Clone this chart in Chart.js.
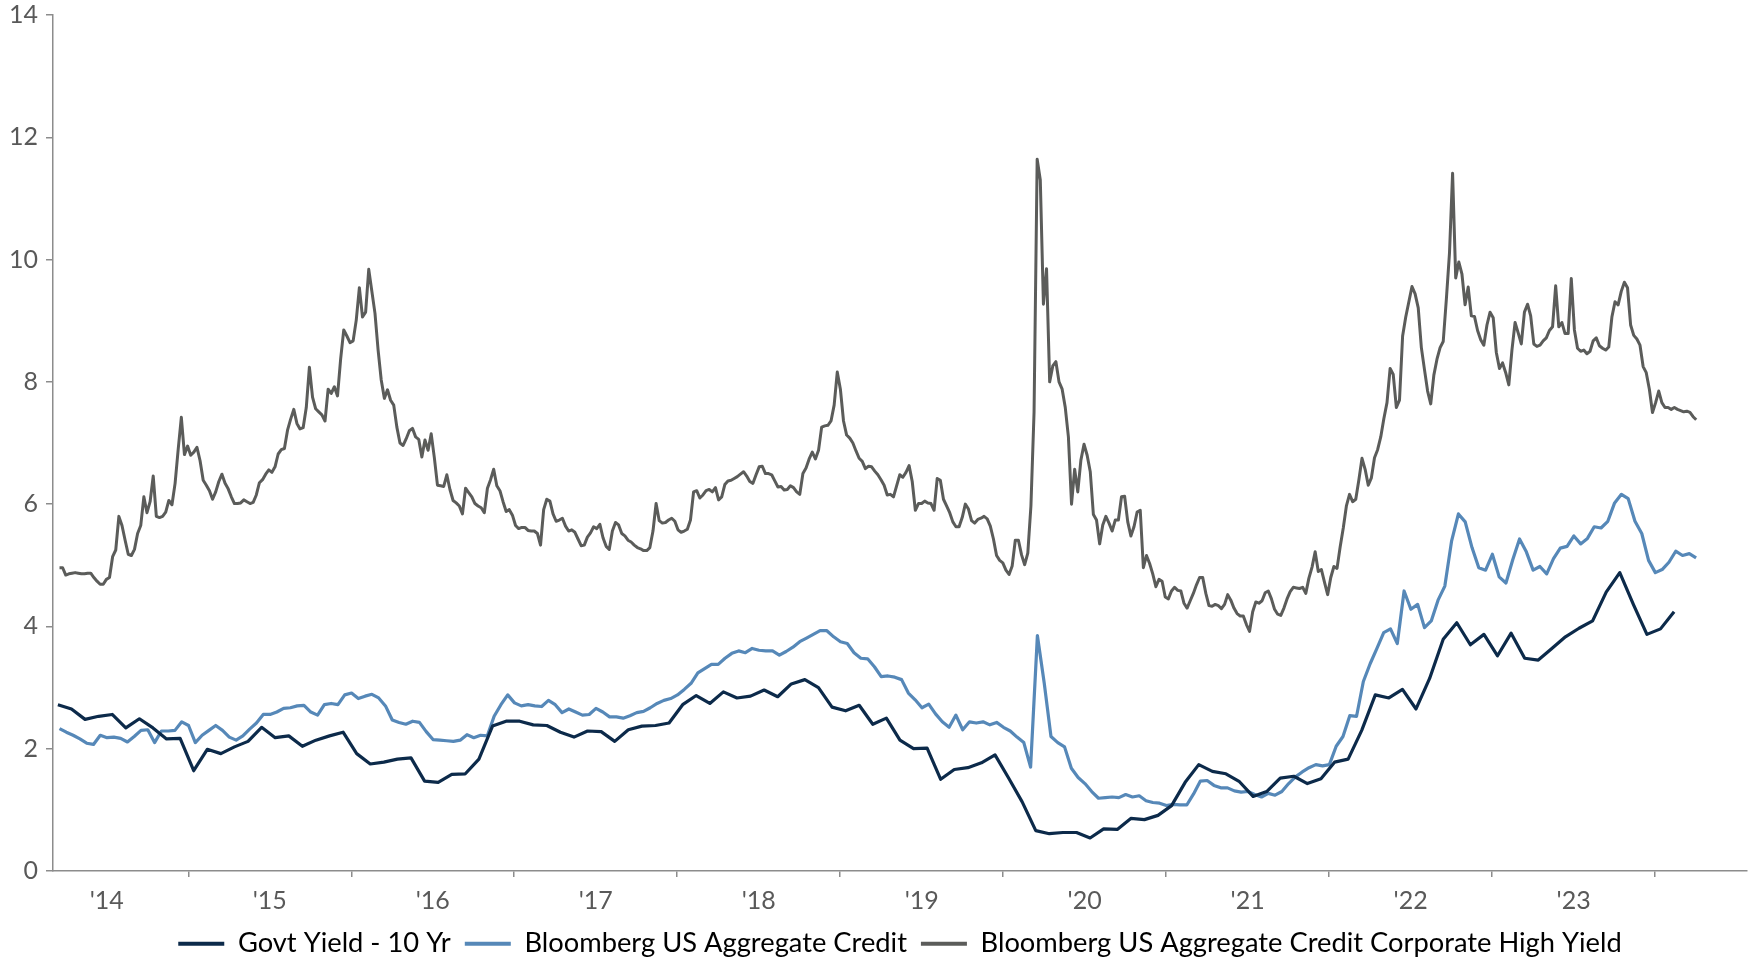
<!DOCTYPE html>
<html lang="en">
<head>
<meta charset="utf-8">
<script src="https://cdn.jsdelivr.net/npm/chart.js@4"></script>
<style>
  html, body { margin: 0; padding: 0; background: #fff; }
</style>
</head>
<body>
<canvas id="myChart" width="1755" height="960"></canvas>
<script>
// year labels on the x axis ('14 ... '23), each centred in its year
const yearLabels = [2014, 2015, 2016, 2017, 2018, 2019, 2020, 2021, 2022, 2023]

// 10 yr govt yield, one reading a month, Mar 2014 -> Feb 2024
const govtStart = 2014.2
const govtYield = [
  2.72, 2.65, 2.48, 2.53, 2.56, 2.34, 2.49, 2.34, 2.16, 2.17,
  1.64, 1.99, 1.92, 2.03, 2.12, 2.35, 2.18, 2.21, 2.04, 2.14, 2.21, 2.27,
  1.92, 1.75, 1.78, 1.83, 1.85, 1.47, 1.45, 1.58, 1.59, 1.83, 2.37, 2.45,
  2.45, 2.39, 2.38, 2.27, 2.19, 2.29, 2.28, 2.12, 2.31, 2.37, 2.38, 2.42,
  2.72, 2.87, 2.74, 2.93, 2.83, 2.86, 2.96, 2.85, 3.06, 3.13, 3.00, 2.68,
  2.62, 2.71, 2.40, 2.50, 2.14, 2.00, 2.01, 1.50, 1.66, 1.69, 1.77, 1.90,
  1.52, 1.13, 0.66, 0.61, 0.63, 0.63, 0.54, 0.69, 0.68, 0.86, 0.84, 0.91,
  1.07, 1.45, 1.74, 1.63, 1.59, 1.46, 1.22, 1.30, 1.52, 1.55, 1.43, 1.51,
  1.78, 1.83, 2.30, 2.88, 2.83, 2.97, 2.65, 3.15, 3.79, 4.06, 3.70, 3.87,
  3.52, 3.89, 3.48, 3.45, 3.64, 3.83, 3.97, 4.09, 4.56, 4.88, 4.36, 3.87,
  3.96, 4.24
]

// aggregate credit yield, read twice a month from mid Mar 2014
const halfMonthStart = 2014.21
const aggCredit = [
  // 2014 - 2015
  2.33, 2.27, 2.22, 2.16, 2.09, 2.07, 2.22, 2.18, 2.19, 2.17, 2.11, 2.2, 2.3, 2.31, 2.1, 2.29, 2.29, 2.3, 2.44, 2.38,
  2.1, 2.22, 2.3, 2.38, 2.3, 2.19, 2.14, 2.21, 2.32, 2.42, 2.56, 2.56, 2.6, 2.66, 2.67, 2.7, 2.71, 2.6, 2.55, 2.72,
  // late 2015 - mid 2017
  2.74, 2.72, 2.88, 2.91, 2.82, 2.86, 2.89, 2.83, 2.7, 2.47, 2.43, 2.4, 2.45, 2.43, 2.28, 2.15, 2.14, 2.13, 2.12, 2.14, 2.23,
  2.18, 2.22, 2.21, 2.53, 2.72, 2.88, 2.75, 2.7, 2.72, 2.7, 2.69, 2.79, 2.72, 2.59, 2.65, 2.6, 2.55, 2.56, 2.66, 2.6, 2.52,
  // mid 2017 - early 2019
  2.52, 2.5, 2.54, 2.59, 2.61, 2.67, 2.74, 2.79, 2.82, 2.88, 2.97, 3.07, 3.24, 3.31, 3.38, 3.38, 3.48, 3.56, 3.6, 3.57, 3.64,
  3.61, 3.6, 3.6, 3.53, 3.59, 3.66, 3.75, 3.81, 3.87, 3.93, 3.93, 3.83, 3.75, 3.72, 3.57, 3.48, 3.47, 3.34, 3.18, 3.19,
  // 2019 - 2020
  3.17, 3.13, 2.91, 2.8, 2.67, 2.73, 2.57, 2.44, 2.35, 2.55, 2.31, 2.44, 2.42, 2.44, 2.39, 2.43, 2.35, 2.29, 2.19, 2.1, 1.7,
  3.85, 3.08, 2.2, 2.1, 2.03, 1.68, 1.53, 1.43, 1.3, 1.19, 1.2, 1.21, 1.2, 1.25, 1.21, 1.23, 1.15, 1.12, 1.11, 1.07,
  // 2021 - 2022
  1.09, 1.08, 1.08, 1.26, 1.47, 1.48, 1.4, 1.36, 1.36, 1.31, 1.29, 1.3, 1.25, 1.21, 1.27, 1.24, 1.3, 1.43, 1.54, 1.62, 1.69,
  1.74, 1.72, 1.74, 2.04, 2.2, 2.54, 2.53, 3.1, 3.39, 3.64, 3.9, 3.96, 3.72, 4.58, 4.28, 4.36, 3.98, 4.09, 4.43, 4.66,
  // late 2022 - 2024
  5.4, 5.84, 5.71, 5.29, 4.96, 4.92, 5.18, 4.81, 4.71, 5.09, 5.43, 5.22, 4.92, 4.98, 4.86, 5.11, 5.28, 5.31, 5.48,
  5.35, 5.44, 5.63, 5.61, 5.72, 6.02, 6.16, 6.09, 5.72, 5.52, 5.08, 4.88, 4.93, 5.05, 5.23, 5.16, 5.19, 5.12
]

// high yield index, one reading a week from mid Mar 2014
const weekStart = 2014.21
const highYield = [
  // Mar 2014 - Oct 2015
  4.96, 4.96, 4.84, 4.86, 4.87, 4.88, 4.87, 4.86, 4.86, 4.87, 4.87, 4.8, 4.74, 4.69, 4.69, 4.77, 4.8, 5.14, 5.25, 5.8,
  5.65, 5.41, 5.18, 5.16, 5.26, 5.52, 5.65, 6.12, 5.86, 6.04, 6.46, 5.8, 5.78, 5.8, 5.87, 6.06, 5.99, 6.34, 6.9, 7.42,
  6.81, 6.95, 6.8, 6.85, 6.93, 6.71, 6.39, 6.31, 6.22, 6.08, 6.2, 6.37, 6.49, 6.34, 6.25, 6.12, 6.01, 6.01, 6.02, 6.07,
  6.04, 6.01, 6.03, 6.15, 6.35, 6.4, 6.49, 6.56, 6.52, 6.61, 6.82, 6.89, 6.91, 7.21, 7.39, 7.55, 7.32, 7.23, 7.25, 7.58,
  8.24, 7.75, 7.56, 7.51, 7.46, 7.36, 7.88,
  // Nov 2015 - Jul 2017
  7.81, 7.92, 7.77, 8.37, 8.85, 8.75, 8.64, 8.67, 9.01, 9.54, 9.06, 9.14, 9.84, 9.48, 9.12, 8.52, 8.03, 7.73, 7.87, 7.7,
  7.62, 7.26, 7.0, 6.96, 7.07, 7.2, 7.24, 7.1, 7.06, 6.77, 7.05, 6.88, 7.15, 6.76, 6.31, 6.3, 6.29, 6.48, 6.24, 6.06,
  6.02, 5.97, 5.84, 6.26, 6.19, 6.12, 6.01, 5.97, 5.94, 5.86, 6.26, 6.4, 6.57, 6.3, 6.22, 6.04, 5.88, 5.91, 5.82, 5.65,
  5.6, 5.62, 5.62, 5.57, 5.56, 5.56, 5.52, 5.33, 5.91, 6.08, 6.05, 5.84, 5.72, 5.74, 5.77, 5.64, 5.56, 5.58, 5.54, 5.43,
  5.32, 5.33, 5.46, 5.53, 5.63, 5.6, 5.67, 5.45, 5.31, 5.26,
  // Aug 2017 - Apr 2019
  5.56, 5.7, 5.66, 5.52, 5.48, 5.41, 5.38, 5.33, 5.29, 5.27, 5.24, 5.24, 5.29, 5.56, 6.01, 5.73, 5.69, 5.7, 5.74, 5.77,
  5.72, 5.58, 5.54, 5.56, 5.59, 5.74, 6.2, 6.22, 6.1, 6.15, 6.22, 6.24, 6.2, 6.27, 6.07, 6.12, 6.32, 6.38, 6.39, 6.42,
  6.45, 6.49, 6.53, 6.46, 6.37, 6.34, 6.48, 6.61, 6.62, 6.5, 6.5, 6.48, 6.38, 6.28, 6.29, 6.23, 6.24, 6.3, 6.27, 6.2,
  6.16, 6.5, 6.59, 6.74, 6.85, 6.74, 6.88, 7.26, 7.28, 7.29, 7.36, 7.62, 8.16, 7.88, 7.36, 7.13, 7.08, 7.0, 6.87, 6.75,
  6.7, 6.58, 6.62, 6.61, 6.54, 6.48, 6.4, 6.31, 6.15,
  // Apr 2019 - Jan 2021
  6.16, 6.12, 6.3, 6.48, 6.44, 6.52, 6.63, 6.37, 5.9, 6.01, 6.01, 6.05, 6.02, 6.01, 5.9, 6.42, 6.39, 6.08, 5.97, 5.86,
  5.71, 5.63, 5.63, 5.78, 6.0, 5.92, 5.73, 5.69, 5.75, 5.77, 5.8, 5.76, 5.64, 5.43, 5.16, 5.08, 5.04, 4.92, 4.85, 4.99,
  5.41, 5.41, 5.17, 5.01, 5.2, 5.97, 7.5, 11.64, 11.3, 9.27, 9.85, 8.0, 8.26, 8.33, 8.0, 7.88, 7.58, 7.1, 6.0, 6.57,
  6.2, 6.72, 6.98, 6.8, 6.53, 5.83, 5.74, 5.35, 5.66, 5.8, 5.69, 5.56, 5.74, 5.74, 6.12, 6.13, 5.71, 5.48, 5.63, 5.87,
  5.9, 4.96, 5.16, 5.03, 4.86, 4.65, 4.77, 4.74, 4.48, 4.45,
  // Jan 2021 - Sep 2022
  4.58, 4.64, 4.59, 4.58, 4.38, 4.3, 4.42, 4.54, 4.68, 4.8, 4.8, 4.54, 4.34, 4.33, 4.36, 4.34, 4.29, 4.36, 4.52, 4.43,
  4.3, 4.21, 4.17, 4.17, 4.03, 3.92, 4.24, 4.4, 4.38, 4.42, 4.55, 4.58, 4.45, 4.28, 4.2, 4.18, 4.3, 4.45, 4.57, 4.64,
  4.63, 4.62, 4.64, 4.54, 4.79, 4.97, 5.22, 4.9, 4.93, 4.72, 4.52, 4.8, 4.98, 4.95, 5.3, 5.61, 5.97, 6.16, 6.04, 6.08,
  6.4, 6.75, 6.57, 6.31, 6.43, 6.76, 6.89, 7.1, 7.4, 7.66, 8.22, 8.12, 7.58, 7.7, 8.75, 9.06, 9.31, 9.56, 9.44, 9.21,
  8.56, 8.2, 7.85, 7.64, 8.11, 8.37, 8.56, 8.66, 9.35, 10.1,
  // Oct 2022 - Apr 2024
  11.41, 9.7, 9.96, 9.76, 9.26, 9.55, 9.08, 9.07, 8.84, 8.69, 8.6, 8.93, 9.14, 9.05, 8.48, 8.22, 8.31, 8.15, 7.95, 8.52,
  8.97, 8.8, 8.62, 9.14, 9.27, 9.08, 8.62, 8.58, 8.6, 8.67, 8.72, 8.84, 8.9, 9.57, 8.9, 8.97, 8.79, 8.79, 9.69, 8.85,
  8.55, 8.5, 8.52, 8.46, 8.5, 8.67, 8.72, 8.59, 8.55, 8.52, 8.57, 9.06, 9.31, 9.26, 9.48, 9.63, 9.54, 8.93, 8.76, 8.7,
  8.6, 8.25, 8.15, 7.88, 7.5, 7.66, 7.85, 7.66, 7.58, 7.58, 7.55, 7.58, 7.55, 7.53, 7.51, 7.52, 7.5, 7.43, 7.38
]

const fontFamily = "Lato, 'Noto Sans', sans-serif"
const textColor = "#595959"
const axisColor = "#8c8c8c"

// x positions in decimal years
function spaced(values, start, step) {
    return values.map((v, i) => ({ x: start + i * step, y: v }))
}

const ctx = document.getElementById("myChart")
new Chart(ctx, {
    type: "line",
    data: {
        datasets: [
            {
                label: "Govt Yield - 10 Yr",
                data: spaced(govtYield, govtStart, 1 / 12),
                borderColor: "#0c2a4a",
                backgroundColor: "#0c2a4a",
                borderWidth: 3.2,
            },
            {
                label: "Bloomberg US Aggregate Credit",
                data: spaced(aggCredit, halfMonthStart, 1 / 24),
                borderColor: "#5688b8",
                backgroundColor: "#5688b8",
                borderWidth: 3.2,
            },
            {
                label: "Bloomberg US Aggregate Credit Corporate High Yield",
                data: spaced(highYield, weekStart, 7 / 365.25),
                borderColor: "#5b5c5a",
                backgroundColor: "#5b5c5a",
                borderWidth: 3,
            },
        ],
    },
    options: {
        responsive: false,
        animation: false,
        layout: { padding: { top: 15, right: 8, left: 0, bottom: 0 } },
        elements: {
            point: { radius: 0 },
            line: { tension: 0, borderJoinStyle: "round" },
        },
        scales: {
            x: {
                type: "linear",
                min: 2014.17,
                max: 2024.564,
                // one label per year, placed mid-year; tick marks fall between them
                afterBuildTicks: (axis) => {
                    axis.ticks = yearLabels.map((y) => ({ value: y + 0.5 }))
                },
                afterFit: (axis) => {
                    axis.height = 45
                },
                grid: {
                    offset: true,
                    drawOnChartArea: false,
                    tickLength: 6,
                    color: axisColor,
                    lineWidth: 1.5,
                },
                border: { color: axisColor, width: 1.5 },
                ticks: {
                    autoSkip: false,
                    maxRotation: 0,
                    padding: 9,
                    color: textColor,
                    font: { family: fontFamily, size: 25 },
                    callback: (value) => "'" + String(Math.floor(value)).slice(2),
                },
            },
            y: {
                min: 0,
                max: 14,
                afterFit: (axis) => {
                    axis.width = 53
                    axis.paddingTop = 0
                    axis.paddingBottom = 0
                },
                grid: {
                    drawOnChartArea: false,
                    tickLength: 7,
                    color: axisColor,
                    lineWidth: 1.5,
                },
                border: { color: axisColor, width: 1.5 },
                ticks: {
                    stepSize: 2,
                    padding: 8,
                    color: textColor,
                    font: { family: fontFamily, size: 25 },
                },
            },
        },
        plugins: {
            tooltip: { enabled: false },
            legend: {
                position: "bottom",
                fullSize: false,
                maxHeight: 44,
                labels: {
                    boxWidth: 46,
                    boxHeight: 4,
                    padding: 14,
                    color: textColor,
                    font: { family: fontFamily, size: 27.3 },
                    generateLabels: (chart) =>
                        chart.data.datasets.map((ds, i) => ({
                            text: ds.label,
                            fillStyle: ds.borderColor,
                            strokeStyle: ds.borderColor,
                            lineWidth: 0,
                            hidden: false,
                            datasetIndex: i,
                        })),
                },
            },
        },
    },
})
</script>
</body>
</html>
